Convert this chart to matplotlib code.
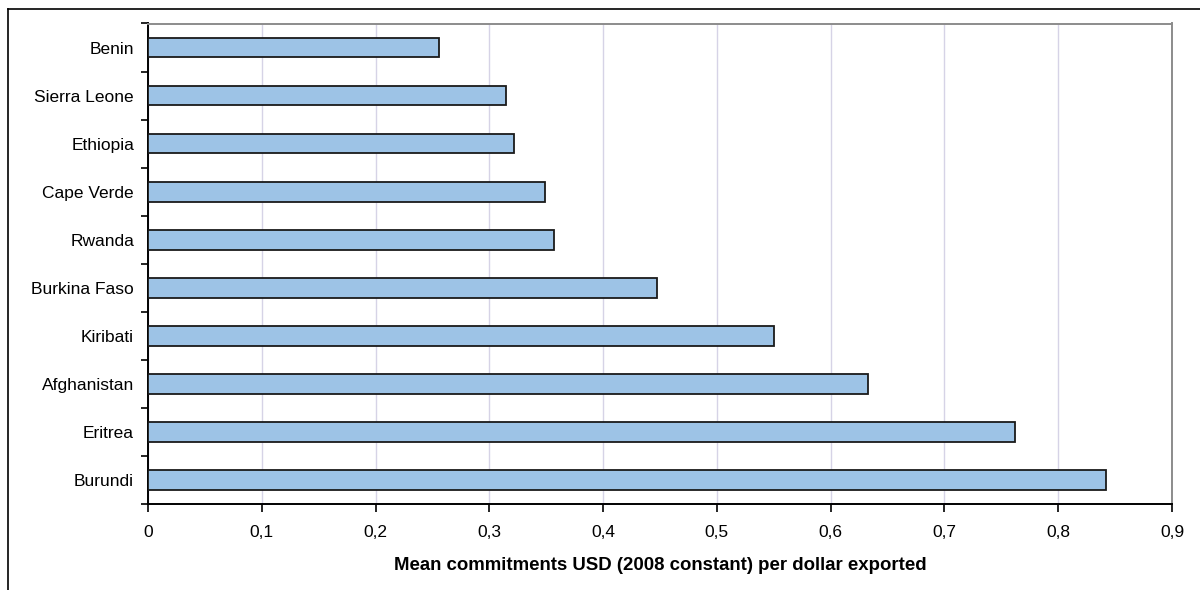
import numpy as np
import matplotlib.pyplot as plt
from matplotlib.lines import Line2D
from matplotlib.ticker import FuncFormatter, MultipleLocator

plt.rcParams['font.family'] = ['Liberation Sans', 'DejaVu Sans']

countries = ['Benin', 'Sierra Leone', 'Ethiopia', 'Cape Verde', 'Rwanda',
             'Burkina Faso', 'Kiribati', 'Afghanistan', 'Eritrea', 'Burundi']
commitments = [0.256, 0.315, 0.322, 0.349, 0.357,
               0.447, 0.550, 0.633, 0.762, 0.842]
xlabel = 'Mean commitments USD (2008 constant) per dollar exported'

fig = plt.figure(figsize=(12, 5.9), dpi=100)
ax = fig.add_axes([148 / 1200, 1 - 504 / 590, 1024 / 1200, 480.5 / 590])

# outer chart frame (only top and left edges are visible)
fig.add_artist(Line2D([8 / 1200, 1], [1 - 9 / 590, 1 - 9 / 590], color='black', lw=1.2))
fig.add_artist(Line2D([8 / 1200, 8 / 1200], [0, 1 - 9 / 590], color='black', lw=1.2))

pos = np.arange(len(countries))
ax.barh(pos, commitments, height=0.41, color='#9dc3e6', edgecolor='#1a1a1a',
        linewidth=1.3, zorder=3)

ax.set_xlim(0, 0.9)
ax.set_ylim(len(countries) - 0.5, -0.5)
ax.xaxis.set_major_locator(MultipleLocator(0.1))
ax.xaxis.set_major_formatter(FuncFormatter(
    lambda v, _: '0' if abs(v) < 1e-9 else f'{v:.1f}'.replace('.', ',')))
ax.grid(axis='x', color='#d6d3e6', linewidth=1.0, zorder=0)

ax.set_yticks(pos)
ax.set_yticklabels(countries)
ax.set_yticks(np.arange(len(countries) + 1) - 0.5, minor=True)
ax.tick_params(axis='y', which='major', length=0, pad=10, labelsize=12.5)
ax.tick_params(axis='y', which='minor', length=5, width=1.2, direction='out')
ax.tick_params(axis='x', length=6, width=1.2, direction='out', pad=9, labelsize=12.5)

for side in ('left', 'bottom'):
    ax.spines[side].set_color('black')
    ax.spines[side].set_linewidth(1.4)
for side in ('top', 'right'):
    ax.spines[side].set_color('#8c8c8c')
    ax.spines[side].set_linewidth(1.4)

ax.set_xlabel(xlabel, fontsize=13.4, fontweight='bold', labelpad=12)

fig.savefig('out.png', dpi=100)
